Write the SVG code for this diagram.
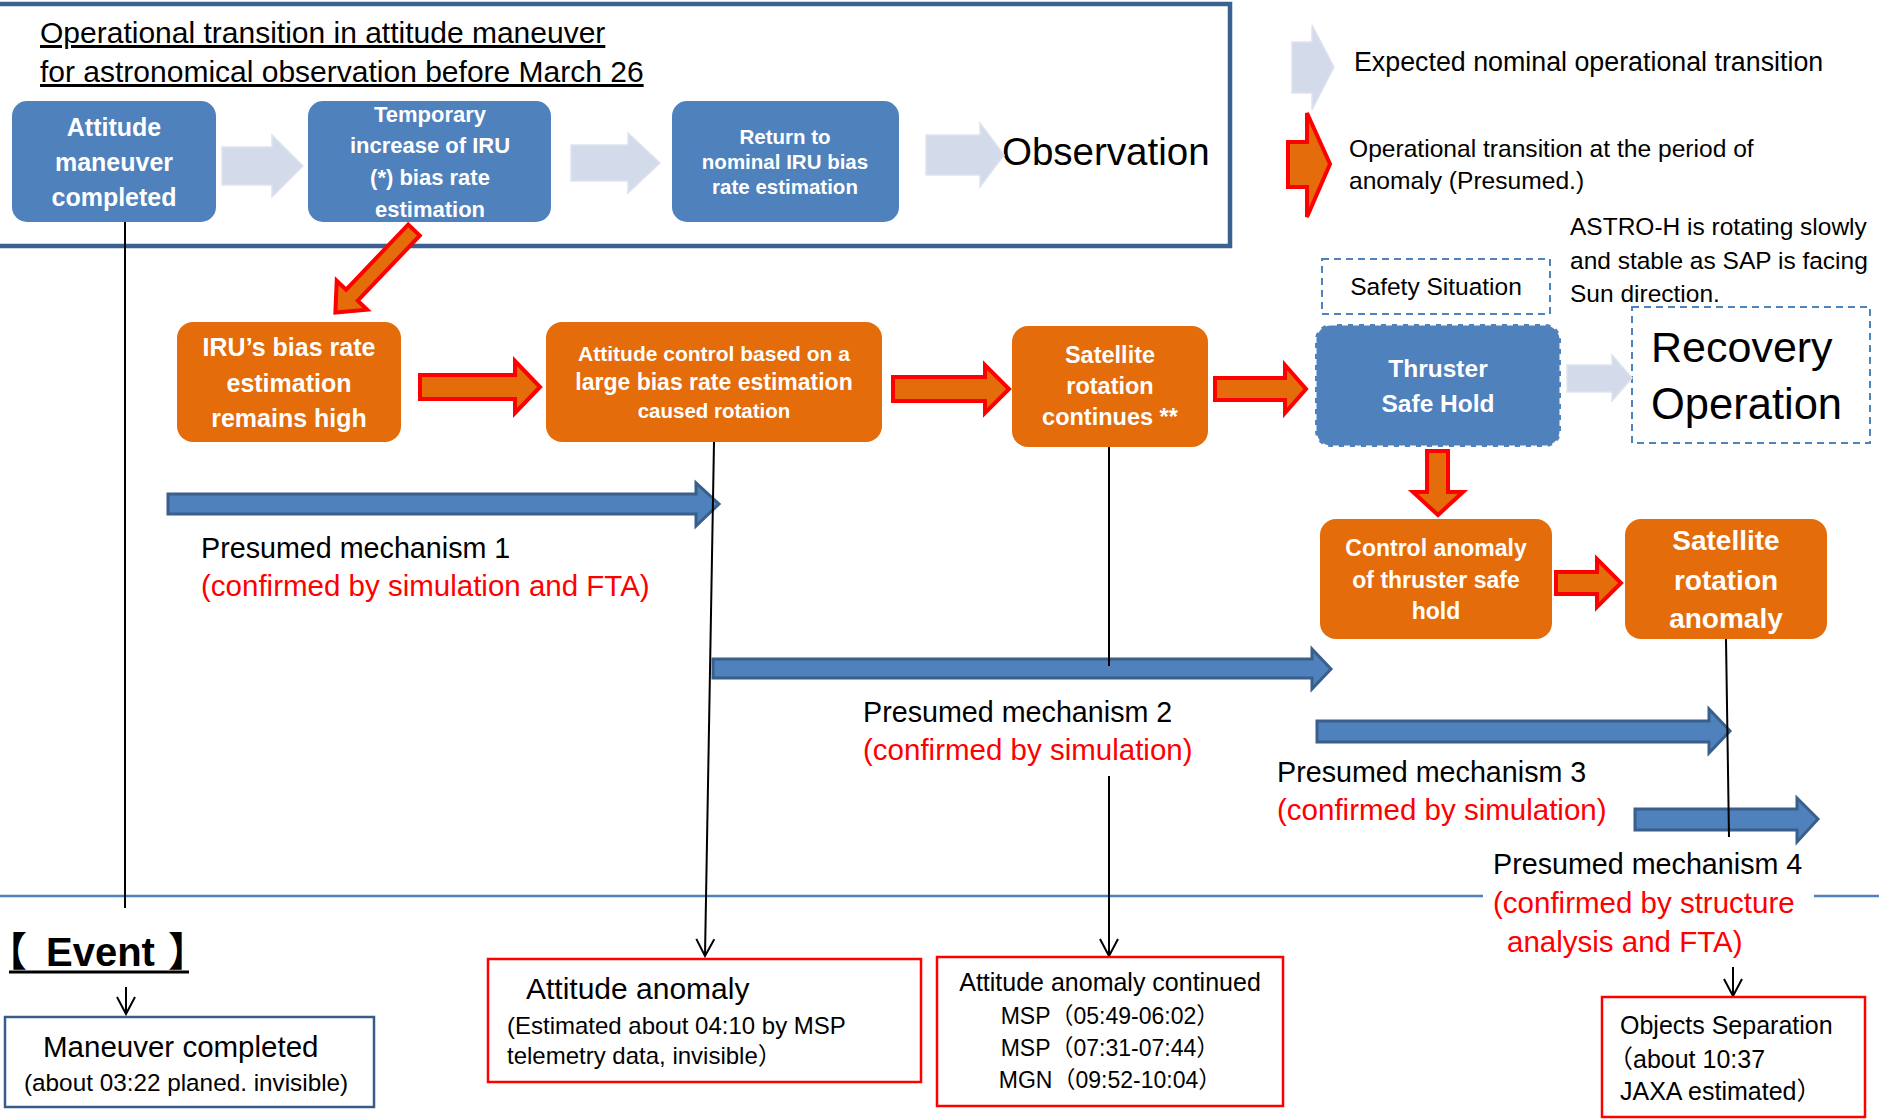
<svg xmlns="http://www.w3.org/2000/svg" width="1879" height="1120" viewBox="0 0 1879 1120">
<defs>
<style>
text{font-family:"Liberation Sans","Noto Sans CJK JP",sans-serif;fill:#000}
.w{fill:#fff;font-weight:bold;text-anchor:middle}
.red{fill:#FF0000}
.blue{fill:#4F81BD}
.orange{fill:#E46C0A}
.lt{fill:#D3DAE9;stroke:#DEE3EE;stroke-width:1.5}
.ra{fill:#E46C0A;stroke:#FF0000;stroke-width:4;stroke-linejoin:miter}
.ba{fill:#4F81BD;stroke:#3A5F8B;stroke-width:3}
.vl{fill:none;stroke:#000;stroke-width:2}
.rb{fill:#fff;stroke:#FF0000;stroke-width:2.5}
.dash{fill:#fff;stroke:#4F81BD;stroke-width:2;stroke-dasharray:7 5}
.pm{font-size:28.7px}
.pc{font-size:29.5px;fill:#FF0000}
</style>
<marker id="v" viewBox="-20 -10 22 20" markerWidth="22" markerHeight="20" refX="0" refY="0" orient="auto" markerUnits="userSpaceOnUse">
<path d="M-17,-9 L0,0 L-17,9" fill="none" stroke="#000" stroke-width="2"/>
</marker>
</defs>
<rect width="1879" height="1120" fill="#fff"/>

<g id="frame">
<rect x="-6" y="4" width="1236" height="242" fill="none" stroke="#3B6191" stroke-width="4.5"/>
<text x="40" y="43" font-size="30" text-decoration="underline">Operational transition in attitude maneuver</text>
<text x="40" y="82" font-size="30" text-decoration="underline">for astronomical observation before March 26</text>
</g>

<g id="legend">
<polygon class="lt" points="1292,42 1312,42 1312,25 1334,67 1312,110 1312,93 1292,93"/>
<text x="1354" y="71" font-size="26.8">Expected nominal operational transition</text>
<polygon class="ra" points="1288,142 1307,142 1307,113 1330,164 1307,217 1307,187 1288,187"/>
<text x="1349" y="157" font-size="24.6">Operational transition at the period of</text>
<text x="1349" y="189" font-size="24.6">anomaly (Presumed.)</text>
</g>

<g id="node-attitude-maneuver-completed">
<rect class="blue" x="12" y="101" width="204" height="121" rx="15"/>
<text class="w" x="114" y="136" font-size="25">Attitude</text>
<text class="w" x="114" y="171" font-size="25">maneuver</text>
<text class="w" x="114" y="206" font-size="25">completed</text>
</g>
<g id="node-temporary-increase">
<rect class="blue" x="308" y="101" width="243" height="121" rx="15"/>
<text class="w" x="430" y="122" font-size="22">Temporary</text>
<text class="w" x="430" y="153" font-size="22">increase of IRU</text>
<text class="w" x="430" y="185" font-size="22">(*) bias rate</text>
<text class="w" x="430" y="217" font-size="22">estimation</text>
</g>
<g id="node-return-nominal">
<rect class="blue" x="672" y="101" width="227" height="121" rx="15"/>
<text class="w" x="785" y="144" font-size="20.5">Return to</text>
<text class="w" x="785" y="169" font-size="20.5">nominal IRU bias</text>
<text class="w" x="785" y="194" font-size="20.5">rate estimation</text>
</g>
<g id="node-observation">
<text x="1002" y="165" font-size="38.5">Observation</text>
</g>

<g id="node-iru-bias-high">
<rect class="orange" x="177" y="322" width="224" height="120" rx="16"/>
<text class="w" x="289" y="356" font-size="25">IRU’s bias rate</text>
<text class="w" x="289" y="392" font-size="25">estimation</text>
<text class="w" x="289" y="427" font-size="25">remains high</text>
</g>
<g id="node-attitude-control">
<rect class="orange" x="546" y="322" width="336" height="120" rx="16"/>
<text class="w" x="714" y="361" font-size="21">Attitude control based on a</text>
<text class="w" x="714" y="390" font-size="23">large bias rate estimation</text>
<text class="w" x="714" y="418" font-size="20.5">caused rotation</text>
</g>
<g id="node-satellite-rotation-continues">
<rect class="orange" x="1012" y="326" width="196" height="121" rx="16"/>
<text class="w" x="1110" y="363" font-size="23.5">Satellite</text>
<text class="w" x="1110" y="394" font-size="23.5">rotation</text>
<text class="w" x="1110" y="425" font-size="23.5">continues **</text>
</g>
<g id="node-safety-situation">
<rect class="dash" x="1322" y="259" width="228" height="55"/>
<text x="1436" y="295" font-size="24.5" text-anchor="middle">Safety Situation</text>
</g>
<g id="node-astro-h-note">
<text x="1570" y="235" font-size="24.5">ASTRO-H is rotating slowly</text>
<text x="1570" y="269" font-size="24.5">and stable as SAP is facing</text>
<text x="1570" y="302" font-size="24.5">Sun direction.</text>
</g>
<g id="node-thruster-safe-hold">
<rect x="1315" y="324" width="246" height="123" rx="16" fill="#4F81BD" stroke="#fff" stroke-width="3" stroke-dasharray="6 5"/>
<text class="w" x="1438" y="377" font-size="24.5">Thruster</text>
<text class="w" x="1438" y="412" font-size="24.5">Safe Hold</text>
</g>
<g id="node-recovery-operation">
<rect class="dash" x="1632" y="307" width="238" height="136"/>
<text x="1651" y="362" font-size="43">Recovery</text>
<text x="1651" y="419" font-size="43.5">Operation</text>
</g>
<g id="node-control-anomaly">
<rect class="orange" x="1320" y="519" width="232" height="120" rx="16"/>
<text class="w" x="1436" y="556" font-size="23">Control anomaly</text>
<text class="w" x="1436" y="588" font-size="23">of thruster safe</text>
<text class="w" x="1436" y="619" font-size="23">hold</text>
</g>
<g id="node-satellite-rotation-anomaly">
<rect class="orange" x="1625" y="519" width="202" height="120" rx="16"/>
<text class="w" x="1726" y="550" font-size="28">Satellite</text>
<text class="w" x="1726" y="590" font-size="28">rotation</text>
<text class="w" x="1726" y="628" font-size="28">anomaly</text>
</g>

<g id="transitions">
<polygon class="lt" points="222,147 272,147 272,135 303,166 272,197 272,185 222,185"/>
<polygon class="lt" points="571,145 628,145 628,133 660,163 628,193 628,181 571,181"/>
<polygon class="lt" points="926,135 980,135 980,123 1004,155 980,187 980,175 926,175"/>
<polygon class="lt" points="1567,365 1612,365 1612,355 1632,378 1612,401 1612,392 1567,392"/>
<polygon class="ra" transform="translate(414,230) rotate(133.6)" points="0,-8 90,-8 90,-21 114,0 90,21 90,8 0,8"/>
<polygon class="ra" points="420,375 515,375 515,361 540,387 515,413 515,399 420,399"/>
<polygon class="ra" points="893,377 985,377 985,365 1009,389 985,413 985,401 893,401"/>
<polygon class="ra" points="1215,378 1285,378 1285,365 1306,389 1285,413 1285,400 1215,400"/>
<polygon class="ra" points="1427,451 1448,451 1448,492 1463,492 1438,515 1413,492 1427,492"/>
<polygon class="ra" points="1556,572 1597,572 1597,559 1621,583 1597,607 1597,594 1556,594"/>
</g>

<g id="mechanisms">
<polygon class="ba" points="168,494 696,494 696,483 719,504 696,526 696,514 168,514"/>
<text class="pm" x="201" y="558">Presumed mechanism 1</text>
<text class="pc" x="201" y="596">(confirmed by simulation and FTA)</text>
<polygon class="ba" points="713,659 1312,659 1312,649 1331,669 1312,689 1312,678 713,678"/>
<text class="pm" x="863" y="722">Presumed mechanism 2</text>
<text class="pc" x="863" y="760">(confirmed by simulation)</text>
<polygon class="ba" points="1317,721 1709,721 1709,709 1730,731 1709,753 1709,742 1317,742"/>
<text class="pm" x="1277" y="782">Presumed mechanism 3</text>
<text class="pc" x="1277" y="820">(confirmed by simulation)</text>
<polygon class="ba" points="1635,809 1797,809 1797,798 1818,819 1797,842 1797,830 1635,830"/>
<text class="pm" x="1493" y="874">Presumed mechanism 4</text>
<text class="pc" x="1493" y="913">(confirmed by structure</text>
<text class="pc" x="1507" y="952">analysis and FTA)</text>
</g>

<g id="separator">
<line x1="0" y1="896" x2="1483" y2="896" stroke="#4F81BD" stroke-width="2.5"/>
<line x1="1814" y1="896" x2="1879" y2="896" stroke="#4F81BD" stroke-width="2.5"/>
</g>

<g id="connectors">
<line class="vl" x1="125" y1="222" x2="125" y2="908"/>
<line class="vl" x1="714" y1="442" x2="705" y2="956" marker-end="url(#v)"/>
<line class="vl" x1="1109" y1="447" x2="1109" y2="666"/>
<line class="vl" x1="1109" y1="776" x2="1109" y2="956" marker-end="url(#v)"/>
<line class="vl" x1="1726" y1="639" x2="1729" y2="837"/>
<line class="vl" x1="1733" y1="967" x2="1733" y2="996" marker-end="url(#v)"/>
<line class="vl" x1="126" y1="987" x2="126" y2="1014" marker-end="url(#v)"/>
</g>

<g id="event-label">
<text y="966" font-size="40" font-weight="bold"><tspan x="7" style="font-feature-settings:'halt'">【</tspan><tspan x="46">Event</tspan><tspan x="168">】</tspan></text>
<line x1="9" y1="972" x2="189" y2="972" stroke="#000" stroke-width="3"/>
</g>

<g id="event-maneuver-completed">
<rect x="5" y="1017" width="369" height="90" fill="#fff" stroke="#385D8A" stroke-width="2.5"/>
<text x="43" y="1057" font-size="29.5">Maneuver completed</text>
<text x="24" y="1091" font-size="24.3">(about 03:22 planed. invisible)</text>
</g>
<g id="event-attitude-anomaly">
<rect class="rb" x="488" y="959" width="433" height="123"/>
<text x="526" y="999" font-size="30">Attitude anomaly</text>
<text x="507" y="1034" font-size="24">(Estimated about 04:10 by MSP</text>
<text x="507" y="1064" font-size="24">telemetry data, invisible）</text>
</g>
<g id="event-attitude-anomaly-continued">
<rect class="rb" x="937" y="957" width="346" height="149"/>
<text x="1110" y="991" font-size="25" text-anchor="middle">Attitude anomaly continued</text>
<text x="1110" y="1024" font-size="23" text-anchor="middle">MSP（05:49-06:02）</text>
<text x="1110" y="1056" font-size="23" text-anchor="middle">MSP（07:31-07:44）</text>
<text x="1110" y="1088" font-size="23" text-anchor="middle">MGN（09:52-10:04）</text>
</g>
<g id="event-objects-separation">
<rect class="rb" x="1602" y="997" width="263" height="120"/>
<text x="1620" y="1034" font-size="25">Objects Separation</text>
<text x="1608" y="1068" font-size="25">（about 10:37</text>
<text x="1620" y="1100" font-size="25">JAXA estimated）</text>
</g>
</svg>
